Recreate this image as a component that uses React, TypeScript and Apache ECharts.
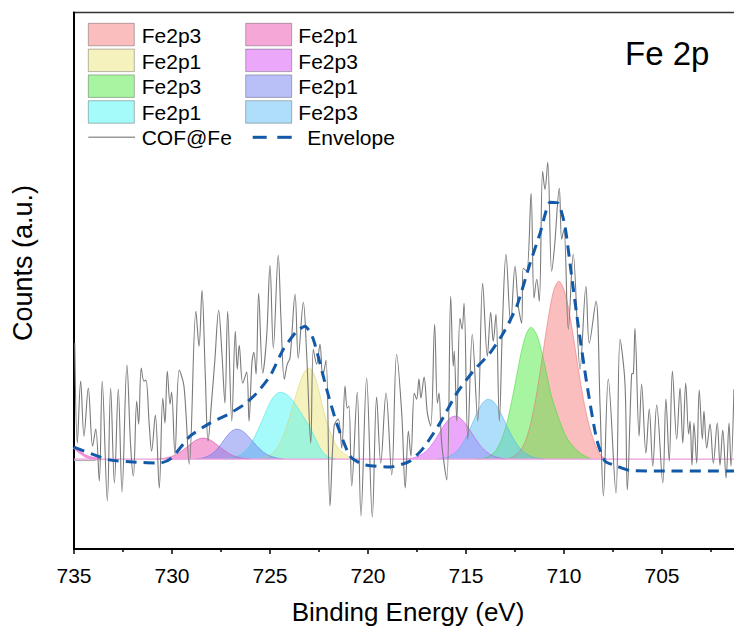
import React, { useEffect, useRef } from "react";
import * as echarts from "echarts";

// ---------- data (binding energy in eV, counts in arbitrary units) ----------
const xTickValues = [735, 730, 725, 720, 715, 710, 705];

const cofFe: number[][] = [
  [734.96, 116], [734.83, 16], [734.66, 78], [734.49, 23], [734.27, 71], [734.05, 13], [733.89, 30], [733.71, -22],
  [733.56, 78], [733.3, -42], [733.13, 71], [732.94, -24], [732.74, 70], [732.55, -33], [732.3, 94], [732.11, 13],
  [731.97, -17], [731.8, 58], [731.7, 35], [731.57, 91], [731.43, 78], [731.33, 79], [731.16, 34], [731.04, 8],
  [730.85, 44], [730.65, -29], [730.47, 61], [730.36, 36], [730.24, 88], [730.1, 55], [730.02, 67], [729.85, 5],
  [729.63, 89], [729.39, 73], [729.12, -5], [728.78, 148], [728.62, 113], [728.47, 169], [728.3, 83], [728.16, 18],
  [727.97, 60], [727.81, 100], [727.62, 149], [727.45, 105], [727.3, 56], [727.16, 148], [726.95, 38], [726.77, 128],
  [726.67, 90], [726.57, 114], [726.39, 76], [726.19, 87], [726.07, 38], [725.92, 97], [725.82, 107], [725.71, 85],
  [725.58, 166], [725.37, 86], [725.17, 123], [725.0, 194], [724.83, 111], [724.58, 204], [724.44, 140], [724.27, 80],
  [724.12, 95], [723.98, 101], [723.72, 165], [723.56, 101], [723.3, 157], [723.13, 105], [722.92, 16], [722.79, 110],
  [722.62, 95], [722.45, 115], [722.31, 83], [722.14, 99], [721.94, -47], [721.73, 33], [721.52, 40], [721.34, 11],
  [721.17, 73], [721.06, 51], [720.97, 53], [720.83, -27], [720.55, 67], [720.36, -57], [720.07, 81], [719.78, -58],
  [719.56, 62], [719.35, -4], [719.08, 66], [718.79, -16], [718.54, 105], [718.28, 46], [718.1, -29], [717.94, 28],
  [717.81, 3], [717.64, 66], [717.52, 60], [717.4, 80], [717.3, 61], [717.14, 82], [716.97, 46], [716.8, 33],
  [716.6, 135], [716.46, 56], [716.38, 66], [716.24, 16], [715.98, -21], [715.78, 163], [715.65, 93], [715.6, 108],
  [715.47, 38], [715.31, 141], [715.2, 130], [715.1, 156], [714.91, 20], [714.68, 125], [714.4, 38], [714.15, 176],
  [713.91, 103], [713.74, 147], [713.61, 118], [713.47, 145], [713.3, 38], [713.13, 140], [712.96, 205], [712.72, 136],
  [712.5, 193], [712.33, 153], [712.16, 136], [712.08, 191], [711.9, 188], [711.68, 266], [711.53, 161], [711.39, 180],
  [711.26, 158], [711.09, 288], [710.97, 270], [710.83, 297], [710.63, 188], [710.49, 211], [710.24, 271], [710.12, 220],
  [710.0, 230], [709.78, 130], [709.53, 205], [709.18, 90], [708.88, 173], [708.71, 116], [708.37, 158], [708.16, 53],
  [707.99, -37], [707.74, 80], [707.35, -34], [707.14, 120], [706.89, 76], [706.77, -31], [706.55, 85], [706.46, 86],
  [706.38, 131], [706.17, 23], [706.04, 75], [705.82, 6], [705.65, 50], [705.47, -7], [705.27, 54], [704.96, -24],
  [704.8, 60], [704.63, -2], [704.47, 88], [704.25, 20], [704.08, 71], [703.94, 16], [703.79, 76], [703.64, 25],
  [703.57, 38], [703.47, -6], [703.37, 36], [703.23, -4], [703.1, 69], [702.94, 20], [702.86, 48], [702.72, 11],
  [702.55, 35], [702.38, -4], [702.18, 36], [702.04, -6], [701.9, 29], [701.73, -19], [701.58, 36], [701.48, -7],
  [701.33, 70],
];

const envelope: number[][] = [
  [735.0, 12], [733.25, -0.5], [731.97, -3], [730.61, -4], [730.02, 1], [729.08, 23], [728.06, 36], [727.21, 44],
  [726.36, 54], [725.68, 66], [725.0, 83], [724.32, 110], [723.64, 128], [723.21, 133], [722.79, 120], [722.11, 70],
  [721.6, 36], [720.92, 3], [720.24, -5.5], [718.88, -8], [717.86, -2], [717.18, 11], [716.33, 36], [715.47, 66],
  [714.63, 88], [713.78, 106], [713.1, 126], [712.41, 153], [711.73, 196], [711.22, 226], [710.71, 257], [710.29, 256],
  [709.95, 233], [709.61, 183], [709.27, 133], [708.84, 76], [708.33, 19.5], [707.91, -2], [707.31, -7], [706.63, -11.5],
  [705.27, -12], [701.0, -12],
];

// fitted components
const peakFe2p3a: number[][] = [
  [712.86, 0], [712.51, 3.4], [712.26, 8], [712.01, 16], [711.76, 31], [711.51, 53], [711.26, 82], [711.01, 115],
  [710.76, 146], [710.51, 170], [710.26, 178], [710.01, 170], [709.76, 150], [709.51, 121], [709.26, 89],
  [709.01, 60], [708.76, 37], [708.51, 20], [708.26, 8], [708.0, 1.5], [707.8, 0],
];
const peakFe2p1a: number[][] = [
  [725.6, 0], [725.25, 1.7], [725.0, 4], [724.75, 8], [724.5, 16], [724.25, 27], [724.0, 42], [723.75, 59],
  [723.5, 75], [723.25, 87], [723.0, 91], [722.75, 84.5], [722.5, 68], [722.25, 47], [722.0, 31], [721.75, 18.5],
  [721.5, 10.4], [721.25, 6], [721.0, 2.6], [720.7, 0.5], [720.5, 0],
];
const peakFe2p3b: number[][] = [
  [714.5, 0], [714.08, 0.8], [713.68, 4.5], [713.43, 10], [713.18, 20], [712.93, 35], [712.68, 57], [712.43, 82],
  [712.18, 107], [711.93, 125], [711.68, 132], [711.43, 126], [711.18, 111], [710.93, 89.5], [710.68, 66],
  [710.43, 50], [710.18, 36], [709.93, 24], [709.68, 16], [709.43, 10.5], [709.18, 6], [708.93, 3], [708.6, 0],
];
const peakFe2p1b: number[][] = [
  [727.4, 0], [726.99, 1], [726.74, 2.4], [726.49, 4.8], [726.24, 9], [725.99, 15], [725.74, 24], [725.49, 34.6],
  [725.24, 46], [724.99, 57], [724.74, 64], [724.49, 67], [724.24, 65.7], [723.99, 62], [723.74, 56], [723.49, 48.6],
  [723.24, 40.6], [722.99, 32.6], [722.74, 23], [722.49, 12.8], [722.24, 5.3], [721.99, 2], [721.74, 0.5], [721.6, 0],
];
const peakFe2p1c: number[][] = [
  [730.8, 0], [730.4, 0.9], [730.15, 1.9], [729.9, 3.6], [729.65, 6.2], [729.4, 9.6], [729.15, 13.5], [728.9, 17.3],
  [728.65, 20], [728.4, 21], [728.15, 20], [727.9, 17.3], [727.65, 13.5], [727.4, 9.6], [727.15, 6.2], [726.9, 3.6],
  [726.65, 1.9], [726.4, 0.9], [726.0, 0],
];
const peakFe2p3c: number[][] = [
  [718.16, 0], [717.81, 0.8], [717.56, 1.9], [717.31, 4], [717.06, 7.4], [716.81, 12.7], [716.56, 19.7],
  [716.31, 27.7], [716.06, 35.3], [715.81, 41], [715.56, 43], [715.31, 41.2], [715.06, 36.2], [714.81, 29.2],
  [714.56, 21.5], [714.31, 14.6], [714.06, 9], [713.81, 5.2], [713.56, 2.7], [713.31, 1.3], [712.96, 0],
];
const peakFe2p1d: number[][] = [
  [728.8, 0], [728.45, 1.1], [728.2, 2.6], [727.95, 5.5], [727.7, 10], [727.45, 16.3], [727.2, 23], [726.95, 28],
  [726.7, 30], [726.45, 28.6], [726.2, 24.7], [725.95, 19.3], [725.7, 13.7], [725.45, 8.9], [725.2, 5.2],
  [724.95, 2.8], [724.7, 1.3], [724.3, 0],
];
const peakFe2p3d: number[][] = [
  [716.46, 0], [716.11, 1.1], [715.86, 2.6], [715.61, 5.5], [715.36, 10.3], [715.11, 17.7], [714.86, 27.5],
  [714.61, 38.6], [714.36, 49.3], [714.11, 57.1], [713.86, 60], [713.61, 57.6], [713.36, 50.9], [713.11, 41.4],
  [712.86, 31], [712.61, 21.4], [712.36, 13.6], [712.11, 7.9], [711.86, 4.3], [711.61, 2.1], [711.36, 1], [710.96, 0],
];

const baseline: number[][] = [[735, 0], [700, 0]];
const baselineEdge: number[][] = [[735, 12], [734.7, 7], [734.4, 3], [734.0, 0.7], [733.6, 0]];
const backgroundStub: number[][] = [[735, -1.5], [733.9, -1.5]];

const peakLabels = ["Fe2p3", "Fe2p1", "Fe2p3", "Fe2p1", "Fe2p1", "Fe2p3", "Fe2p1", "Fe2p3"];
const peakData = [peakFe2p3a, peakFe2p1a, peakFe2p3b, peakFe2p1b, peakFe2p1c, peakFe2p3c, peakFe2p1d, peakFe2p3d];
const lineLabels = ["COF@Fe", "Envelope"];
const panelLabel = "Fe 2p";
const xTitle = "Binding Energy (eV)";
const yTitle = "Counts (a.u.)";

// ---------- styles ----------
const peakFills = [
  "rgba(245,125,125,0.5)",
  "rgba(235,229,125,0.5)",
  "rgba(80,235,65,0.5)",
  "rgba(75,245,245,0.5)",
  "rgba(235,81,175,0.5)",
  "rgba(215,81,245,0.5)",
  "rgba(115,129,241,0.5)",
  "rgba(95,189,245,0.5)",
];
const peakEdges = [
  "rgba(235,110,110,0.55)",
  "rgba(215,210,110,0.55)",
  "rgba(70,215,60,0.55)",
  "rgba(65,225,225,0.55)",
  "rgba(220,70,160,0.55)",
  "rgba(200,70,230,0.55)",
  "rgba(100,115,230,0.55)",
  "rgba(80,175,235,0.55)",
];
const FONT = "Arial, 'Liberation Sans', sans-serif";
const ENVELOPE_COLOR = "#1259A8";
const RAW_COLOR = "#7a7a7a";

export default function App() {
  const ref = useRef<HTMLDivElement>(null);

  useEffect(() => {
    if (!ref.current) return;
    const chart = echarts.init(ref.current, null, { renderer: "svg" });

    const peakSeries = peakData.map((d, i) => ({
      type: "line",
      name: peakLabels[i] + "#" + i,
      data: d,
      smooth: 0.3,
      symbol: "none",
      silent: true,
      z: 2,
      lineStyle: { color: peakEdges[i], width: 1 },
      areaStyle: { color: peakFills[i], opacity: 1, origin: 0 },
    }));

    // legend drawn with graphic elements
    const legendEls: any[] = [];
    const rowPitch = 25.8;
    peakLabels.forEach((label, i) => {
      const col = Math.floor(i / 4);
      const row = i % 4;
      const sx = col ? 245.7 : 88.3;
      const tx = col ? 298.3 : 141.7;
      const sy = 23.3 + row * rowPitch;
      legendEls.push({
        type: "rect",
        shape: { x: sx, y: sy, width: 46, height: 22.5 },
        style: { fill: peakFills[i], stroke: "rgba(0,0,0,0.28)", lineWidth: 1 },
      });
      legendEls.push({
        type: "text",
        x: tx,
        y: sy + 12,
        style: { text: label, fontSize: 21, fontFamily: FONT, fill: "#000", verticalAlign: "middle", align: "left" },
      });
    });
    const lineRowY = 137.3;
    legendEls.push({
      type: "line",
      shape: { x1: 88.3, y1: lineRowY, x2: 135, y2: lineRowY },
      style: { stroke: "#9a9a9a", lineWidth: 1.5 },
    });
    legendEls.push({
      type: "text",
      x: 141.7,
      y: lineRowY,
      style: { text: lineLabels[0], fontSize: 21, fontFamily: FONT, fill: "#000", verticalAlign: "middle" },
    });
    legendEls.push({
      type: "line",
      shape: { x1: 252.7, y1: lineRowY, x2: 266.7, y2: lineRowY },
      style: { stroke: ENVELOPE_COLOR, lineWidth: 3 },
    });
    legendEls.push({
      type: "line",
      shape: { x1: 277.3, y1: lineRowY, x2: 291.7, y2: lineRowY },
      style: { stroke: ENVELOPE_COLOR, lineWidth: 3 },
    });
    legendEls.push({
      type: "text",
      x: 307.3,
      y: lineRowY,
      style: { text: lineLabels[1], fontSize: 21, fontFamily: FONT, fill: "#000", verticalAlign: "middle" },
    });
    legendEls.push({
      type: "text",
      x: 625,
      y: 53.5,
      style: { text: panelLabel, fontSize: 33, fontFamily: FONT, fill: "#000", verticalAlign: "middle" },
    });
    legendEls.push({
      type: "text",
      x: 23,
      y: 263,
      rotation: Math.PI / 2,
      style: { text: yTitle, fontSize: 27, fontFamily: FONT, fill: "#000", align: "center", verticalAlign: "middle" },
    });

    chart.setOption({
      animation: false,
      backgroundColor: "#fff",
      grid: {
        left: 74,
        top: 12.5,
        width: 686,
        height: 536.5,
        outerBoundsMode: "none",
        containLabel: false,
        show: true,
        borderColor: "#333",
        borderWidth: 1.5,
        backgroundColor: "transparent",
      },
      xAxis: {
        type: "value",
        inverse: true,
        min: 700,
        max: 735,
        interval: 5,
        axisLine: { show: true, onZero: false, lineStyle: { color: "#000", width: 2 } },
        axisTick: { show: true, length: 5, lineStyle: { color: "#000", width: 1.5 } },
        minorTick: { show: true, splitNumber: 2, length: 3, lineStyle: { color: "#000", width: 1.5 } },
        axisLabel: {
          fontSize: 21,
          color: "#000",
          fontFamily: FONT,
          margin: 16,
          showMinLabel: false,
          formatter: (v: number) => (xTickValues.includes(v) ? String(v) : ""),
        },
        splitLine: { show: false },
        minorSplitLine: { show: false },
        name: xTitle,
        nameLocation: "middle",
        nameGap: 50,
        nameTextStyle: { fontSize: 26, color: "#000", fontFamily: FONT, padding: [0, 18, 0, 0] },
      },
      yAxis: {
        type: "value",
        min: -90,
        max: 447,
        axisLine: { show: true, onZero: false, lineStyle: { color: "#000", width: 2 } },
        axisTick: { show: false },
        axisLabel: { show: false },
        splitLine: { show: false },
      },
      graphic: legendEls,
      series: [
        ...peakSeries,
        {
          type: "line",
          name: "baseline",
          data: baseline,
          symbol: "none",
          silent: true,
          z: 3,
          lineStyle: { color: "#EE9BDD", width: 1.2 },
        },
        {
          type: "line",
          name: "baselineEdge",
          data: baselineEdge,
          smooth: 0.4,
          symbol: "none",
          silent: true,
          z: 3,
          lineStyle: { color: "#EE8FD8", width: 3 },
        },
        {
          type: "line",
          name: "stub",
          data: backgroundStub,
          symbol: "none",
          silent: true,
          z: 3,
          lineStyle: { color: "#aaa", width: 1 },
        },
        {
          type: "line",
          name: lineLabels[0],
          data: cofFe,
          smooth: 0.35,
          symbol: "none",
          silent: true,
          z: 4,
          lineStyle: { color: RAW_COLOR, width: 1.1 },
        },
        {
          type: "line",
          name: lineLabels[1],
          data: envelope,
          smooth: 0.2,
          symbol: "none",
          silent: true,
          z: 5,
          lineStyle: { color: ENVELOPE_COLOR, width: 3, type: [11, 7] },
        },
      ],
    });

    return () => chart.dispose();
  }, []);

  return (
    <div
      ref={ref}
      style={{ position: "fixed", left: 0, top: 0, width: 734, height: 635, background: "#fff" }}
    />
  );
}
